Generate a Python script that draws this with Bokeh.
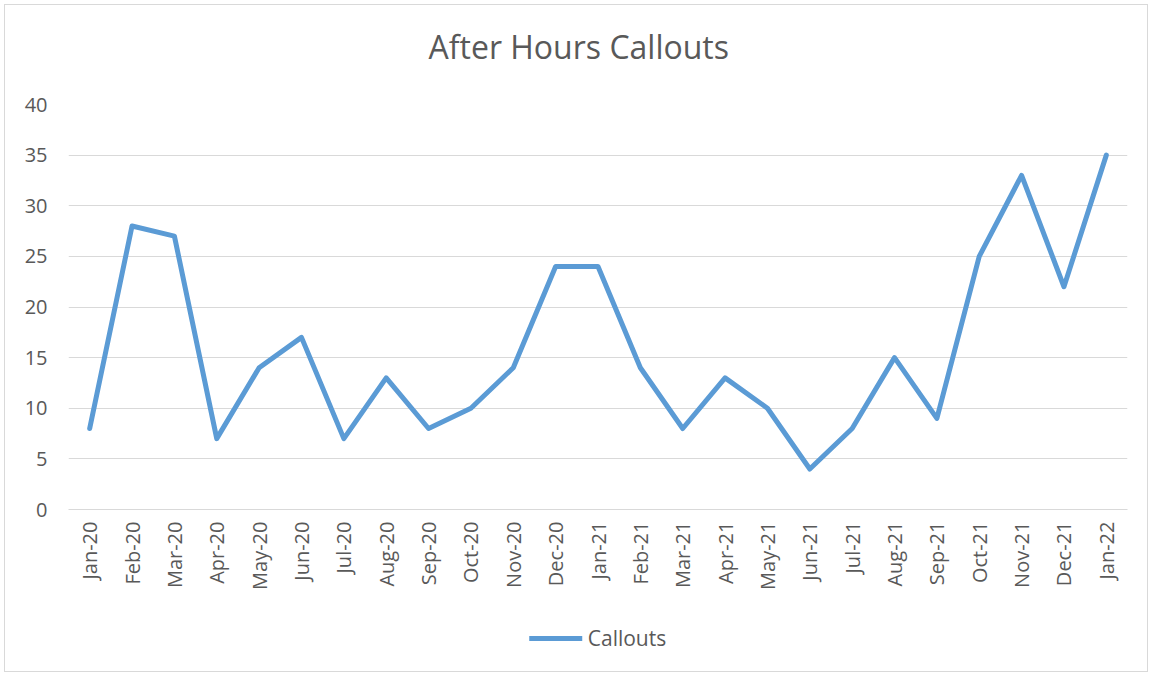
from bokeh.plotting import figure
from bokeh.models import Range1d, FactorRange, Legend, LegendItem, Title
from bokeh.layouts import column
from bokeh.embed import file_html
from bokeh.resources import INLINE
import math

months = ["Jan-20", "Feb-20", "Mar-20", "Apr-20", "May-20", "Jun-20", "Jul-20", "Aug-20",
          "Sep-20", "Oct-20", "Nov-20", "Dec-20", "Jan-21", "Feb-21", "Mar-21", "Apr-21",
          "May-21", "Jun-21", "Jul-21", "Aug-21", "Sep-21", "Oct-21", "Nov-21", "Dec-21", "Jan-22"]
callouts = [8, 28, 27, 7, 14, 17, 7, 13, 8, 10, 14, 24, 24, 14, 8, 13, 10, 4, 8, 15, 9, 25, 33, 22, 35]
y_ticks = [0, 5, 10, 15, 20, 25, 30, 35, 40]
series_name = "Callouts"
chart_title = "After Hours Callouts"

FONT = "Open Sans"
TXT = "#595959"
GRID = "#d9d9d9"
BLUE = "#5B9BD5"

p = figure(width=1142, height=600, output_backend="svg", toolbar_location=None, title=None,
           x_range=FactorRange(*months, range_padding=0), y_range=Range1d(0, 40),
           min_border_left=63, min_border_right=20, min_border_top=99, min_border_bottom=96)
p.outline_line_color = None

spacer = Title(text=" ", text_font_size="1px", standoff=29)
p.add_layout(spacer, "above")
t = Title(text=chart_title, text_font=FONT, text_font_size="32px", text_font_style="normal",
          text_color=TXT, align="left", offset=360, standoff=10)
p.add_layout(t, "above")

r = p.line(x=months, y=callouts, line_color=BLUE, line_width=5, line_join="round", line_cap="round")

p.yaxis.ticker = y_ticks
p.yaxis.axis_line_color = None
p.yaxis.major_tick_line_color = None
p.yaxis.minor_tick_line_color = None
p.yaxis.major_label_text_font = FONT
p.yaxis.major_label_text_font_size = "20px"
p.yaxis.major_label_text_color = TXT
p.yaxis.major_label_standoff = 15

p.xaxis.axis_line_color = GRID
p.xaxis.major_tick_line_color = None
p.xaxis.minor_tick_line_color = None
p.xaxis.major_tick_out = 0
p.xaxis.major_label_orientation = math.pi / 2
p.xaxis.major_label_text_font = FONT
p.xaxis.major_label_text_font_size = "20px"
p.xaxis.major_label_text_color = TXT
p.xaxis.major_label_standoff = 12

p.xgrid.grid_line_color = None
p.ygrid.grid_line_color = GRID
p.ygrid.grid_line_width = 1

# legend strip below the chart (series drawn out of view, only its legend entry shows)
p2 = figure(width=1142, height=66, output_backend="svg", toolbar_location=None,
            x_range=FactorRange(*months, range_padding=0), y_range=Range1d(100, 101),
            x_axis_location=None, y_axis_location=None, min_border=0)
p2.outline_line_color = None
p2.grid.visible = False
r2 = p2.line(x=months, y=callouts, line_color=BLUE, line_width=5, line_join="round", line_cap="round")
legend = Legend(items=[LegendItem(label=series_name, renderers=[r2])],
                orientation="horizontal", location="center",
                label_text_font=FONT, label_text_font_size="21px", label_text_color=TXT,
                glyph_width=53, glyph_height=20, label_standoff=6,
                border_line_color=None, background_fill_alpha=0, margin=0, padding=10)
p2.add_layout(legend, "center")

lay = column(p, p2, spacing=0, styles={"border": "1px solid #d9d9d9", "margin": "4px"})

open("out.html", "w").write(file_html(lay, INLINE))
